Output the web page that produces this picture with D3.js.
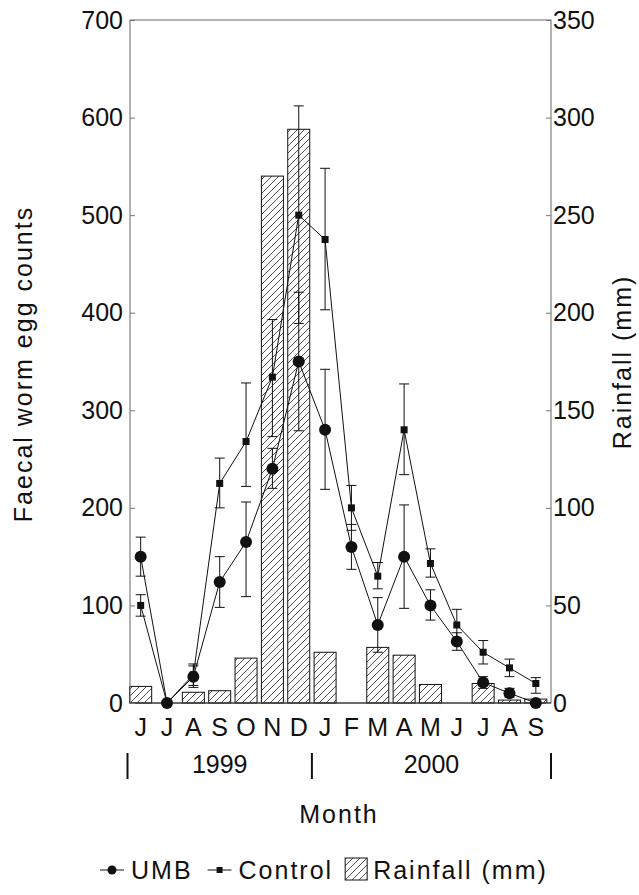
<!DOCTYPE html>
<html>
<head>
<meta charset="utf-8">
<script src="https://cdn.jsdelivr.net/npm/d3@7"></script>
<style>
  body { margin: 0; background: #fff; }
  text { font-family: "Liberation Sans", Arial, Helvetica, sans-serif; fill: #111; }
  .lbl { font-size: 25px; }
  .word { font-size: 25px; letter-spacing: 2px; }
</style>
</head>
<body>
<div id="chart"></div>
<script>
// months Jun 1999 .. Sep 2000
var months = ["J","J","A","S","O","N","D","J","F","M","A","M","J","J","A","S"];
var rainfall = [8.5, 0, 5.5, 6.3, 23, 270, 294, 26, 0, 28.5, 24.5, 9.5, 0, 10, 1.5, 2];

var umb   = [150, 0, 27, 124, 165, 240, 350, 280, 160, 80, 150, 100, 63, 21, 10, 0];
var umbHi = [170, 0, 38, 150, 206, 261, 421, 342, 183, 108, 203, 116, 72, 27, 15, 0];
var umbLo = [130, 0, 16,  98, 109, 220, 279, 219, 137, 52,  97,  85, 54, 15,  6, 0];

var control   = [100, 0, 29, 225, 268, 334, 500, 475, 200, 130, 280, 143, 80, 52, 36, 20];
var controlHi = [111, 0, 40, 251, 328, 393, 612, 548, 223, 144, 327, 158, 96, 64, 45, 26];
var controlLo = [ 89, 0, 18, 200, 222, 273, 389, 403, 177, 117, 234, 129, 64, 40, 27, 10];

var years = ["1999", "2000"];
var yearBreaks = [0, 7, 16];   // month index where each year block starts/ends
var eggTicks = [0, 100, 200, 300, 400, 500, 600, 700];
var rainTicks = [0, 50, 100, 150, 200, 250, 300, 350];

var W = 639, H = 895;
var plotL = 130, plotR = 551, plotT = 20, plotB = 703;

var svg = d3.select("#chart").append("svg")
    .attr("width", W).attr("height", H);

var x = d3.scaleBand().domain(d3.range(months.length)).range([127.5, 549]);
var cx = function(i){ return x(i) + x.bandwidth() / 2; };
var y = d3.scaleLinear().domain([0, 700]).range([plotB, plotT]);
var y2 = d3.scaleLinear().domain([0, 350]).range([plotB, plotT]);

// hatch for rainfall bars
svg.append("defs").append("pattern")
    .attr("id", "hatch")
    .attr("patternUnits", "userSpaceOnUse")
    .attr("width", 7).attr("height", 7)
  .append("path")
    .attr("d", "M-1,1 L1,-1 M0,7 L7,0 M6,8 L8,6")
    .attr("stroke", "#222")
    .attr("stroke-width", 0.8);

var barW = 22;
svg.append("g").selectAll("rect")
    .data(rainfall.map(function(v, i){ return {v: v, i: i}; }).filter(function(d){ return d.v > 0; }))
    .enter().append("rect")
    .attr("x", function(d){ return cx(d.i) - barW / 2; })
    .attr("y", function(d){ return y2(d.v); })
    .attr("width", barW)
    .attr("height", function(d){ return plotB - y2(d.v); })
    .attr("fill", "url(#hatch)")
    .attr("stroke", "#111")
    .attr("stroke-width", 1);

// frame
svg.append("rect")
    .attr("x", plotL).attr("y", plotT)
    .attr("width", plotR - plotL).attr("height", plotB - plotT)
    .attr("fill", "none").attr("stroke", "#666").attr("stroke-width", 1);
svg.append("line")
    .attr("x1", plotL).attr("x2", plotR).attr("y1", plotB).attr("y2", plotB)
    .attr("stroke", "#222");

// axes
function styleAxis(g){
  g.select(".domain").remove();
  g.attr("font-size", null).attr("font-family", null);
  g.selectAll("line").attr("stroke", "#777");
  g.selectAll("text").attr("class", "lbl");
}

svg.append("g")
    .attr("transform", "translate(" + plotL + ",0)")
    .call(d3.axisLeft(y).tickValues(eggTicks).tickSizeInner(-5).tickSizeOuter(0).tickPadding(7))
    .call(styleAxis);

svg.append("g")
    .attr("transform", "translate(" + plotR + ",0)")
    .call(d3.axisRight(y2).tickValues(rainTicks).tickSizeInner(-5).tickSizeOuter(0).tickPadding(2))
    .call(styleAxis);

svg.append("g")
    .attr("transform", "translate(0," + plotB + ")")
    .call(d3.axisBottom(x).tickSize(0).tickPadding(15.5).tickFormat(function(i){ return months[i]; }))
    .call(styleAxis);

// year blocks
var xEdge = function(i){ return i < months.length ? x(i) : x(months.length - 1) + x.bandwidth() + 2; };
svg.append("g").selectAll("line")
    .data(yearBreaks)
    .enter().append("line")
    .attr("x1", xEdge).attr("x2", xEdge)
    .attr("y1", 753).attr("y2", 779)
    .attr("stroke", "#111").attr("stroke-width", 2);

svg.append("g").selectAll("text")
    .data(years)
    .enter().append("text")
    .attr("class", "lbl")
    .attr("text-anchor", "middle")
    .attr("x", function(d, i){ return (xEdge(yearBreaks[i]) + xEdge(yearBreaks[i + 1])) / 2; })
    .attr("y", 773)
    .text(function(d){ return d; });

// error bars
function errorBars(hi, lo){
  var g = svg.append("g").attr("stroke", "#111").attr("stroke-width", 1);
  var idx = d3.range(hi.length).filter(function(i){ return hi[i] !== lo[i]; });
  g.selectAll(".v").data(idx).enter().append("line")
      .attr("x1", cx).attr("x2", cx)
      .attr("y1", function(i){ return y(hi[i]); })
      .attr("y2", function(i){ return y(lo[i]); });
  [hi, lo].forEach(function(arr){
    g.selectAll(null).data(idx).enter().append("line")
        .attr("x1", function(i){ return cx(i) - 5; })
        .attr("x2", function(i){ return cx(i) + 5; })
        .attr("y1", function(i){ return y(arr[i]); })
        .attr("y2", function(i){ return y(arr[i]); });
  });
}
errorBars(controlHi, controlLo);
errorBars(umbHi, umbLo);

var line = d3.line()
    .x(function(d, i){ return cx(i); })
    .y(function(d){ return y(d); });

[control, umb].forEach(function(s){
  svg.append("path")
      .attr("d", line(s))
      .attr("fill", "none")
      .attr("stroke", "#111")
      .attr("stroke-width", 1);
});

svg.append("g").selectAll("rect")
    .data(control)
    .enter().append("rect")
    .attr("x", function(d, i){ return cx(i) - 3.5; })
    .attr("y", function(d){ return y(d) - 3.5; })
    .attr("width", 7).attr("height", 7)
    .attr("fill", "#111");

svg.append("g").selectAll("circle")
    .data(umb)
    .enter().append("circle")
    .attr("cx", function(d, i){ return cx(i); })
    .attr("cy", function(d){ return y(d); })
    .attr("r", 6)
    .attr("fill", "#111");

// titles
svg.append("text")
    .attr("class", "word")
    .attr("text-anchor", "middle")
    .attr("transform", "translate(32,364) rotate(-90)")
    .text("Faecal worm egg counts");

svg.append("text")
    .attr("class", "word")
    .attr("text-anchor", "middle")
    .attr("transform", "translate(631,362) rotate(-90)")
    .text("Rainfall (mm)");

svg.append("text")
    .attr("class", "word")
    .attr("text-anchor", "middle")
    .attr("x", 339).attr("y", 823)
    .text("Month");

// legend
var legend = svg.append("g");
var lx = 100, ly = 870;

legend.append("line").attr("x1", lx).attr("x2", lx + 24).attr("y1", ly).attr("y2", ly).attr("stroke", "#111");
legend.append("circle").attr("cx", lx + 12).attr("cy", ly).attr("r", 4.5).attr("fill", "#111");
var t1 = legend.append("text").attr("class", "word").attr("x", lx + 31).attr("y", ly + 9).text("UMB");
lx = lx + 31 + t1.node().getComputedTextLength() + 15;

legend.append("line").attr("x1", lx).attr("x2", lx + 24).attr("y1", ly).attr("y2", ly).attr("stroke", "#111");
legend.append("rect").attr("x", lx + 9).attr("y", ly - 3).attr("width", 6).attr("height", 6).attr("fill", "#111");
var t2 = legend.append("text").attr("class", "word").attr("x", lx + 31).attr("y", ly + 9).text("Control");
lx = lx + 31 + t2.node().getComputedTextLength() + 12;

legend.append("rect").attr("x", lx).attr("y", ly - 12).attr("width", 22).attr("height", 22)
    .attr("fill", "url(#hatch)").attr("stroke", "#111");
legend.append("text").attr("class", "word").attr("x", lx + 28).attr("y", ly + 9).text("Rainfall (mm)");
</script>
</body>
</html>
